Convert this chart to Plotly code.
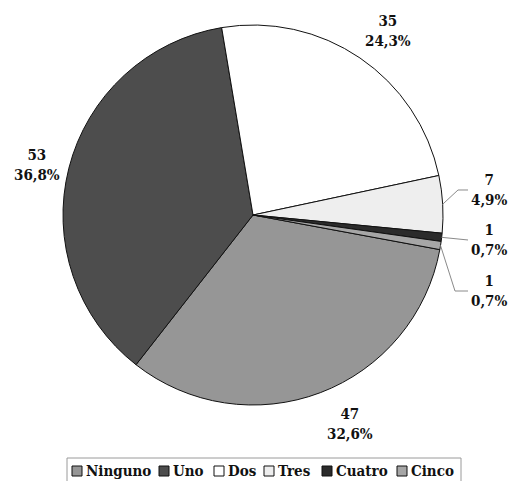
import math
import plotly.graph_objects as go

# --- data ---
categories = ["Ninguno", "Uno", "Dos", "Tres", "Cuatro", "Cinco"]
counts = [47, 53, 35, 7, 1, 1]
colors = ["#969696", "#4d4d4d", "#ffffff", "#eeeeee", "#2b2b2b", "#a6a6a6"]

# --- layout geometry (pixels) ---
W, H = 510, 481
CX, CY, R = 253, 215, 190
ROTATION = 100.5
FONT = dict(family="DejaVu Serif Condensed, DejaVu Serif", size=15, color="#111111")

# big slices: radial label placement with small nudges
label_radius = 226
label_nudge = {"Ninguno": (17, -2), "Uno": (3, 6), "Dos": (8, 3)}
# small slices: stacked labels on the right with leader lines
small_labels = {"Tres": (489, 190, 458), "Cuatro": (489, 240, None), "Cinco": (489, 291, 455)}

# legend layout
legend_box = (67, 458, 461, 500)
legend_sq_x = [72, 159, 214, 264, 322, 397]
legend_y = 471
SQ = 10


def px(x):
    return x / W


def py(y):
    return 1 - y / H


def polar(r, deg):
    a = math.radians(deg)
    return CX + r * math.sin(a), CY - r * math.cos(a)


def bold(s):
    return "<b>" + s.replace("<br>", "</b><br><b>") + "</b>"


total = sum(counts)
pct_text = [f"{c / total * 100:.1f}".replace(".", ",") + "%" for c in counts]
label_text = [f"{c}<br>{p}" for c, p in zip(counts, pct_text)]

mid_angles = []
acc = 0
for c in counts:
    mid_angles.append(ROTATION + 360 * (acc + c / 2) / total)
    acc += c

fig = go.Figure(
    go.Pie(
        labels=categories,
        values=counts,
        sort=False,
        direction="clockwise",
        rotation=ROTATION,
        marker=dict(colors=colors, line=dict(color="#111111", width=1)),
        textinfo="none",
        hoverinfo="label+value+percent",
        showlegend=False,
        domain=dict(x=[px(CX - R), px(CX + R)], y=[py(CY + R), py(CY - R)]),
    )
)

annotations = []
shapes = []

for cat, txt, ang in zip(categories, label_text, mid_angles):
    if cat in small_labels:
        lx, ly, elbow = small_labels[cat]
        sx, sy = polar(R, ang)
        pts = [(sx, sy)]
        if elbow is not None:
            pts.append((elbow, ly))
        pts.append((lx - 21, ly))
        path = "M " + " L ".join(f"{px(x):.5f},{py(y):.5f}" for x, y in pts)
        shapes.append(dict(type="path", xref="paper", yref="paper", path=path,
                           line=dict(color="#8a8a8a", width=1)))
    else:
        lx, ly = polar(label_radius, ang)
        dx, dy = label_nudge.get(cat, (0, 0))
        lx, ly = lx + dx, ly + dy
    annotations.append(dict(x=px(lx), y=py(ly), xref="paper", yref="paper",
                            text=bold(txt), showarrow=False, font=FONT,
                            xanchor="center", yanchor="middle", align="center"))

# legend frame
x0, y0, x1, y1 = legend_box
shapes.append(dict(type="rect", xref="paper", yref="paper",
                   x0=px(x0), x1=px(x1), y0=py(y1), y1=py(y0),
                   line=dict(color="#9a9a9a", width=1), fillcolor="rgba(0,0,0,0)"))

# legend entries
for cat, col, sx in zip(categories, colors, legend_sq_x):
    shapes.append(dict(type="rect", xref="paper", yref="paper",
                       x0=px(sx), x1=px(sx + SQ),
                       y0=py(legend_y + SQ / 2), y1=py(legend_y - SQ / 2),
                       line=dict(color="#111111", width=1), fillcolor=col))
    annotations.append(dict(x=px(sx + SQ + 2), y=py(legend_y), xref="paper", yref="paper",
                            text=bold(cat), showarrow=False, font=FONT,
                            xanchor="left", yanchor="middle"))

fig.update_layout(
    width=W,
    height=H,
    margin=dict(l=0, r=0, t=0, b=0),
    paper_bgcolor="white",
    plot_bgcolor="white",
    showlegend=False,
    separators=",.",
    annotations=annotations,
    shapes=shapes,
)

fig.write_html("out.html")
